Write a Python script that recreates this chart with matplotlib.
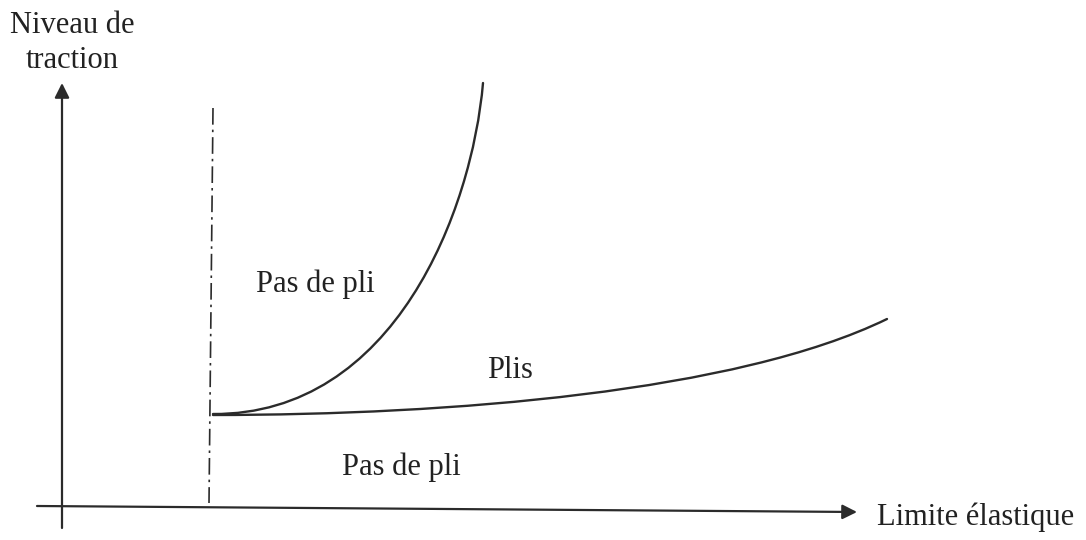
import matplotlib
matplotlib.use("Agg")
import matplotlib.pyplot as plt
from matplotlib.path import Path
import matplotlib.patches as mpatches

# schematic, in pixel units (y grows downward)
# boundary curves given as cubic Bezier control points
upper_x = [213, 395, 472, 483]
upper_y = [414, 415, 210, 83]

lower_x = [213, 450, 737, 887]
lower_y = [415, 415, 392, 319]

limit_x = [213, 209]
limit_y = [108, 503]

region_labels = ["Pas de pli", "Plis", "Pas de pli"]
region_x = [256, 487, 342]
region_y = [292, 378, 475]

ink = "#2b2b2b"
plt.rcParams['font.family'] = ['Liberation Serif', 'DejaVu Serif']

fig = plt.figure(figsize=(10.86, 5.40), dpi=100)
ax = fig.add_axes([0, 0, 1, 1])
ax.set_xlim(0, 1086)
ax.set_ylim(540, 0)
ax.axis('off')

arrow = dict(arrowstyle='-|>', mutation_scale=22, lw=1.6, color=ink,
             shrinkA=0, shrinkB=0)
# axes
ax.annotate('', xy=(62, 83), xytext=(62, 528), arrowprops=arrow)
ax.annotate('', xy=(857, 512), xytext=(37, 506), arrowprops=arrow)

# elastic limit line
ax.plot(limit_x, limit_y, color=ink, lw=1.2, linestyle=(0, (10, 3, 1.5, 3)))

# boundaries
def bezier(xs, ys):
    codes = [Path.MOVETO] + [Path.CURVE4] * (len(xs) - 1)
    return mpatches.PathPatch(Path(list(zip(xs, ys)), codes), fill=False,
                              edgecolor=ink, lw=1.7, capstyle='round')

ax.add_patch(bezier(upper_x, upper_y))
ax.add_patch(bezier(lower_x, lower_y))

for txt, x, y in zip(region_labels, region_x, region_y):
    ax.text(x, y, txt, fontsize=22, color='#222222', ha='left', va='baseline')

ax.text(72, 33, "Niveau de", fontsize=22, color='#222222', ha='center', va='baseline')
ax.text(72, 68, "traction", fontsize=22, color='#222222', ha='center', va='baseline')
ax.text(877, 525, "Limite élastique", fontsize=22, color='#222222', ha='left', va='baseline')

fig.savefig('out.png', dpi=100)
